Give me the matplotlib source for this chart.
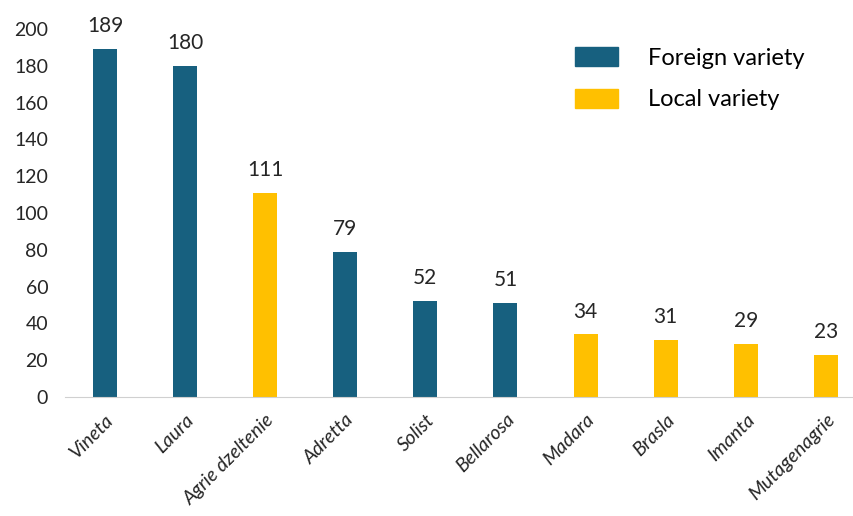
import matplotlib.pyplot as plt
from matplotlib.patches import Patch

# Dati del grafico
varietas = ['Vineta', 'Laura', 'Agrie dzeltenie', 'Adretta', 'Solist',
            'Bellarosa', 'Madara', 'Brasla', 'Imanta', 'Mutagenagrie']
vertibas = [189, 180, 111, 79, 52, 51, 34, 31, 29, 23]
tips = ['Foreign', 'Foreign', 'Local', 'Foreign', 'Foreign',
        'Foreign', 'Local', 'Local', 'Local', 'Local']

krasas = {'Foreign': '#17607F', 'Local': '#FFC000'}

plt.rcParams['font.family'] = ['Lato', 'DejaVu Sans']

fig = plt.figure(figsize=(8.54, 5.16), dpi=100)
ax = fig.add_axes([0.076, 0.2306, 0.938, 0.7132])

x = range(len(varietas))
ax.bar(x, vertibas, width=0.3, color=[krasas[t] for t in tips])

# vertibu etiketes virs stabiniem
for xi, v in zip(x, vertibas):
    ax.text(xi, v + 7, str(v), ha='center', va='bottom', fontsize=15, color='#262626')

ax.set_xlim(-0.5, len(varietas) - 0.5)
ax.set_ylim(0, 200)
ax.set_yticks(range(0, 201, 20))
ax.tick_params(axis='y', length=0, labelsize=14, labelcolor='#262626', pad=12)
ax.tick_params(axis='x', length=0, pad=10)
ax.set_xticks(list(x))
ax.set_xticklabels(varietas, rotation=45, ha='right', rotation_mode='anchor',
                   fontsize=14, fontstyle='italic', color='#262626')

for s in ['top', 'right', 'left']:
    ax.spines[s].set_visible(False)
ax.spines['bottom'].set_color('#D0D0D0')

rokturi = [Patch(color=krasas['Foreign'], label='Foreign variety'),
           Patch(color=krasas['Local'], label='Local variety')]
fig.legend(handles=rokturi, loc='upper left', bbox_to_anchor=(0.649, 0.95),
           frameon=False, fontsize=17, handlelength=1.8, handleheight=0.85,
           handletextpad=1.25, labelspacing=0.85)

fig.savefig('out.png', dpi=100)
